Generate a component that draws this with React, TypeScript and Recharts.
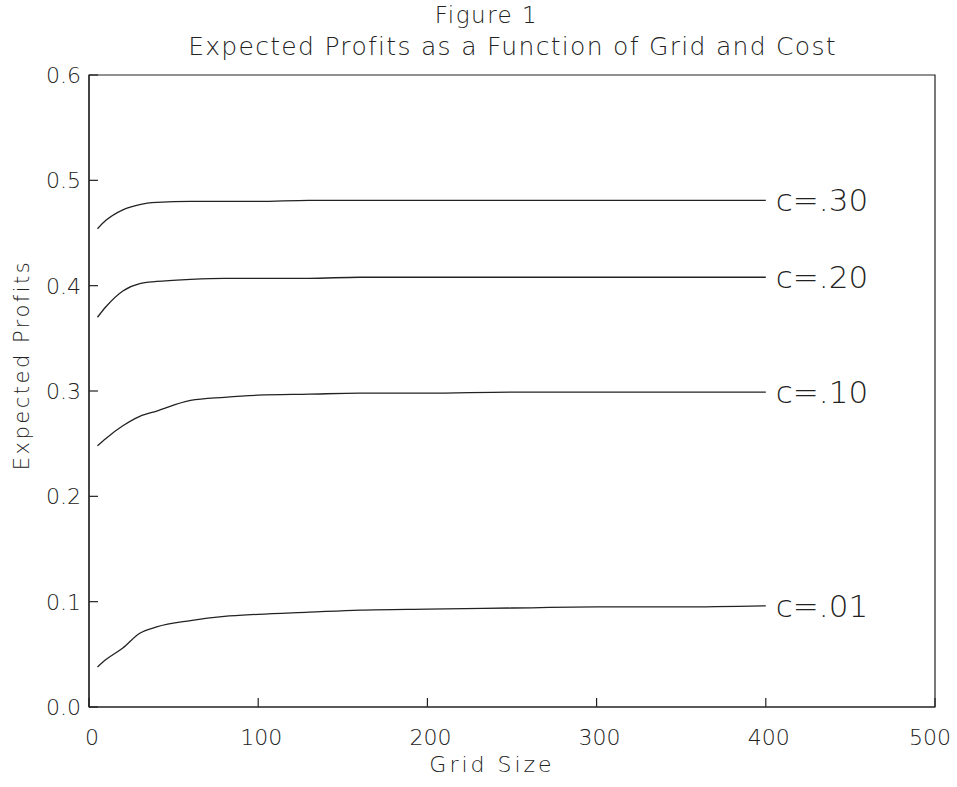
import React from 'react';
import { LineChart, Line, XAxis, YAxis, ReferenceArea } from 'recharts';

const gridSizes = [5, 10, 20, 30, 40, 60, 80, 100, 130, 160, 200, 250, 300, 350, 400];
const c30 = [0.454, 0.462, 0.472, 0.477, 0.479, 0.48, 0.48, 0.48, 0.481, 0.481, 0.481, 0.481, 0.481, 0.481, 0.481];
const c20 = [0.37, 0.38, 0.395, 0.402, 0.404, 0.406, 0.407, 0.407, 0.407, 0.408, 0.408, 0.408, 0.408, 0.408, 0.408];
const c10 = [0.248, 0.255, 0.267, 0.276, 0.281, 0.291, 0.294, 0.296, 0.297, 0.298, 0.298, 0.299, 0.299, 0.299, 0.299];
const c01 = [0.038, 0.045, 0.056, 0.07, 0.076, 0.082, 0.086, 0.088, 0.09, 0.092, 0.093, 0.094, 0.095, 0.095, 0.096];

const xTicks = [0, 100, 200, 300, 400, 500];
const yTicks = [0, 0.1, 0.2, 0.3, 0.4, 0.5, 0.6];

const series = [
  { key: 'c30', label: 'c=.30' },
  { key: 'c20', label: 'c=.20' },
  { key: 'c10', label: 'c=.10' },
  { key: 'c01', label: 'c=.01' },
];

const data = gridSizes.map((g, i) => ({ g, c30: c30[i], c20: c20[i], c10: c10[i], c01: c01[i] }));

const font = "'DejaVu Sans', sans-serif";
const ink = '#222';

const YTick = (props: any) => {
  const { x, y, payload } = props;
  return (
    <g>
      <line x1={x} y1={y} x2={x + 9} y2={y} stroke={ink} strokeWidth={1.2} />
      <text x={x - 8} y={y} dy={8} textAnchor="end" fontSize={22} fontWeight={200} fill={ink} fontFamily={font}>
        {payload.value.toFixed(1)}
      </text>
    </g>
  );
};

const XTick = (props: any) => {
  const { x, y, payload } = props;
  // last label sits against the page edge, as in the scan
  const last = payload.value === xTicks[xTicks.length - 1];
  return (
    <g>
      <line x1={x} y1={y} x2={x} y2={y - 9} stroke={ink} strokeWidth={1.2} />
      <text x={last ? x + 16 : x + 3} y={y + 38} textAnchor={last ? 'end' : 'middle'} fontSize={22} fontWeight={200} fill={ink} fontFamily={font}>
        {payload.value}
      </text>
    </g>
  );
};

const endLabel = (text: string) => (props: any) => {
  const { x, y, index } = props;
  if (index !== gridSizes.length - 1) return null;
  return (
    <text x={x + 10} y={y} dy={11} fontSize={31} fontWeight={200} fill={ink} fontFamily={font}>
      {text}
    </text>
  );
};

export default function App() {
  return (
    <div style={{ position: 'absolute', left: 0, top: 0, width: 957, height: 787, background: '#fff' }}>
      <div style={{ position: 'absolute', left: 0, width: 957, top: 2, textAlign: 'center', paddingLeft: 16, boxSizing: 'border-box', fontFamily: font, fontWeight: 200, fontSize: 23, letterSpacing: 1.5, color: ink }}>
        Figure 1
      </div>
      <div style={{ position: 'absolute', left: 0, width: 957, top: 32, textAlign: 'center', paddingLeft: 68, boxSizing: 'border-box', fontFamily: font, fontWeight: 200, fontSize: 25, letterSpacing: 1.3, color: ink, whiteSpace: 'nowrap' }}>
        Expected Profits as a Function of Grid and Cost
      </div>
      <div style={{ position: 'absolute', left: 392, width: 200, top: 752, textAlign: 'center', fontFamily: font, fontWeight: 200, fontSize: 22, letterSpacing: 3, color: ink }}>
        Grid Size
      </div>
      <div style={{ position: 'absolute', left: 22, top: 367, width: 0, height: 0 }}>
        <div style={{ position: 'absolute', left: -120, top: -14, width: 240, textAlign: 'center', transform: 'rotate(-90deg)', fontFamily: font, fontWeight: 200, fontSize: 21, letterSpacing: 2.5, color: ink, whiteSpace: 'nowrap' }}>
          Expected Profits
        </div>
      </div>
      <LineChart width={957} height={787} data={data} margin={{ top: 75, right: 22, bottom: 0, left: 0 }}>
        <XAxis
          dataKey="g"
          type="number"
          domain={[0, 500]}
          ticks={xTicks}
          height={80}
          tickSize={0}
          tickMargin={0}
          tick={<XTick />}
          axisLine={{ stroke: ink, strokeWidth: 1.2 }}
        />
        <YAxis
          type="number"
          domain={[0, 0.6]}
          ticks={yTicks}
          width={89}
          tickSize={0}
          tickMargin={0}
          tick={<YTick />}
          axisLine={{ stroke: ink, strokeWidth: 1.2 }}
        />
        <ReferenceArea x1={0} x2={500} y1={0} y2={0.6} fill="none" stroke={ink} strokeWidth={1.2} ifOverflow="visible" />
        {series.map((s) => (
          <Line
            key={s.key}
            dataKey={s.key}
            type="monotone"
            stroke={ink}
            strokeWidth={1.3}
            dot={false}
            isAnimationActive={false}
            label={endLabel(s.label)}
          />
        ))}
      </LineChart>
    </div>
  );
}
